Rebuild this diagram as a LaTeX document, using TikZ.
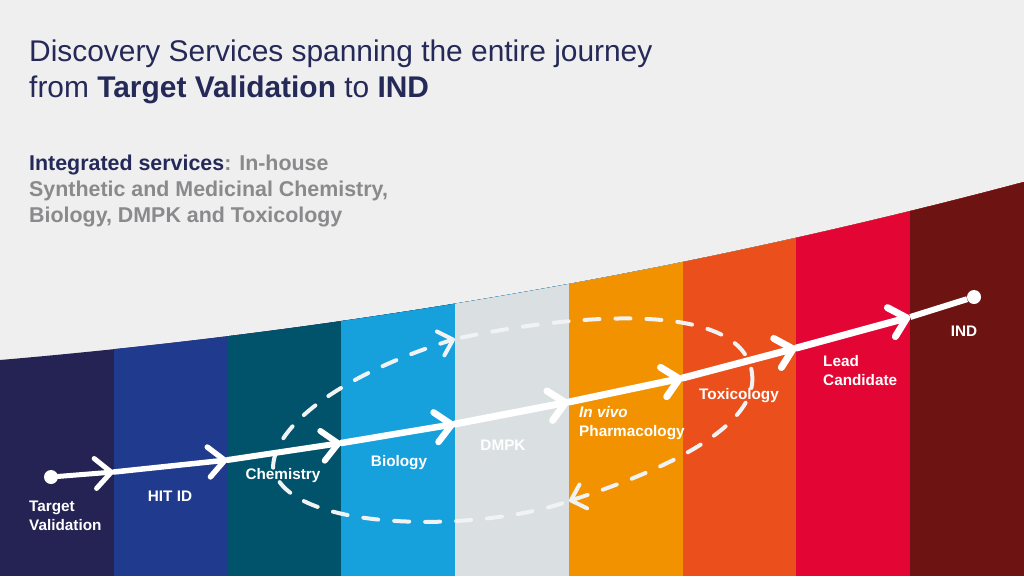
\documentclass[tikz,border=0pt]{standalone}
\usepackage{fontspec}
\setmainfont{Liberation Sans}
\usetikzlibrary{arrows.meta}
\definecolor{bgGrey}{HTML}{EFEFEF}
\definecolor{navyText}{HTML}{252958}
\definecolor{greyText}{HTML}{8A8A8C}
\definecolor{dashWhite}{HTML}{F1F2F3}
\newcommand{\stageSize}{\fontsize{15.3}{18.5}\selectfont\bfseries}
\newcommand{\titleSize}{\fontsize{29.9}{36}\selectfont}
\newcommand{\introSize}{\fontsize{21.4}{26}\selectfont\bfseries}
\tikzset{
	stage/.style={text=white, inner sep=0pt, align=left, font=\stageSize},
	endDot/.style={circle, fill=white, inner sep=0pt, minimum size=14pt},
	journey/.style={white, line width=#1, line cap=round, -{Straight Barb[round, length=16pt, width=30pt]}},
	loopDash/.style={dashWhite, line width=4pt, dash pattern=on 15pt off 16pt, line cap=round},
	loopTip/.style={-{Straight Barb[round, length=13pt, width=25pt]}},
	loopAfterTip/.style={loopDash, dash phase=24pt},
}

\begin{document}
\begin{tikzpicture}[x=1pt, y=-1pt]
	\useasboundingbox (0,0) rectangle (1024,576);
	\fill[bgGrey] (0,0) rectangle (1024,576);

	% coloured bands under the rising edge
	\begin{scope}
		\clip (0,360) .. controls (341.3,330.7) and (682.7,272.8) .. (1024,182) -- (1024,576) -- (0,576) -- cycle;
		\foreach \xa/\band in {0/252353, 113.8/203A8D, 227.5/00536B, 341.3/16A1DD, 455/DADFE2, 568.9/F39200, 682.7/EB4F1B, 796.4/E30534, 910.2/6D1412} {
			\definecolor{bandColor}{HTML}{\band}
			\fill[bandColor] (\xa,150) rectangle (1024,576);
		}
	\end{scope}

	% headings
	\node[anchor=north west, inner sep=0pt, align=left, text=navyText, font=\titleSize] (title) at (29,40)
		{Discovery Services spanning the entire journey\\ from \textbf{Target Validation} to \textbf{IND}};
	\node[anchor=north west, inner sep=0pt, align=left, text=greyText, font=\introSize] (intro) at (29,155)
		{\textcolor{navyText}{Integrated services}: In-house\\ Synthetic and Medicinal Chemistry,\\ Biology, DMPK and Toxicology};

	% waypoints of the journey
	\node[endDot] (start) at (51,477) {};
	\node[endDot] (finish) at (974,297) {};
	\coordinate (hit) at (113.8,472);
	\coordinate (chem) at (227.5,460);
	\coordinate (bio) at (341.3,443);
	\coordinate (dmpk) at (455,424);
	\coordinate (vivo) at (568.9,402);
	\coordinate (tox) at (682.7,378);
	\coordinate (lead) at (796.4,348);
	\coordinate (ind) at (910.2,317);

	% dashed loop
	\coordinate (loopLeft) at (273,467);
	\coordinate (loopTop) at (455,339);
	\coordinate (loopRight) at (752,373);
	\coordinate (loopLow) at (569,501);
	\draw[loopDash, loopTip] (loopLeft) .. controls (275,420) and (355,370) .. (loopTop);
	\draw[loopAfterTip] (loopTop) .. controls (545,319) and (741,293) .. (loopRight);
	\draw[loopDash, loopTip] (loopRight) .. controls (760,430) and (650,475) .. (loopLow);
	\draw[loopAfterTip] (loopLow) .. controls (480,533) and (285,533) .. (loopLeft);

	% main line
	\foreach \from/\to/\wd in {start/hit/5, hit/chem/5.5, chem/bio/6, bio/dmpk/6.5, dmpk/vivo/7, vivo/tox/7, tox/lead/7, lead/ind/7} {
		\draw[journey=\wd pt] (\from) -- (\to);
	}
	\draw[white, line width=6pt] (ind) -- (finish);

	% stage labels
	\node[stage, anchor=west] (lblTarget) at (29,516) {Target\\ Validation};
	\node[stage] (lblHit) at (170,496) {HIT ID};
	\node[stage] (lblChem) at (283,476) {Chemistry};
	\node[stage] (lblBio) at (399,463) {Biology};
	\node[stage] (lblDmpk) at (503,445) {DMPK};
	\node[stage, anchor=west] (lblVivo) at (579,423) {\textit{In vivo}\\ Pharmacology};
	\node[stage] (lblTox) at (739,396) {Toxicology};
	\node[stage, anchor=west] (lblLead) at (823,370.5) {Lead\\ Candidate};
	\node[stage] (lblInd) at (964,331) {IND};
\end{tikzpicture}
\end{document}
